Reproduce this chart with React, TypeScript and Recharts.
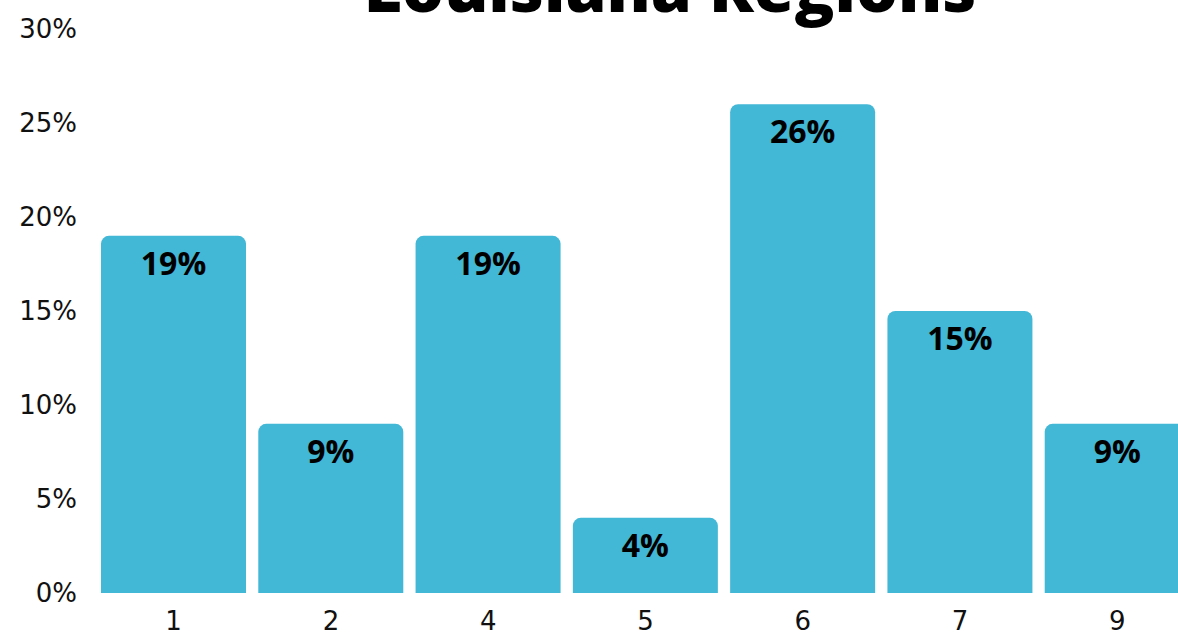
import { BarChart, Bar, XAxis, YAxis, LabelList } from "recharts";

const regions = ["1", "2", "4", "5", "6", "7", "9"];
const shares = [19, 9, 19, 4, 26, 15, 9];
const yTicks = [0, 5, 10, 15, 20, 25, 30];

const data = regions.map((region, i) => ({ region, share: shares[i] }));

const BAR_COLOR = "#42b7d6";
const FONT = "'Open Sans', 'Liberation Sans', sans-serif";
const TICK_FONT = "'DejaVu Sans', sans-serif";

export default function App() {
  return (
    <div
      style={{
        position: "fixed",
        left: 0,
        top: 0,
        width: 1178,
        height: 635,
        overflow: "hidden",
        background: "#fff",
      }}
    >
      <svg
        width={1178}
        height={40}
        style={{ position: "absolute", left: 0, top: 0, pointerEvents: "none" }}
      >
        <text
          x={670}
          y={12}
          textAnchor="middle"
          fontFamily={FONT}
          fontWeight={800}
          fontSize={66}
          fill="#000"
        >
          Louisiana Regions
        </text>
      </svg>
      <BarChart
        width={1200}
        height={635}
        data={data}
        margin={{ top: 29, right: 4, bottom: 0, left: 0 }}
        barCategoryGap={6}
      >
        <XAxis
          dataKey="region"
          axisLine={false}
          tickLine={false}
          height={42}
          tickMargin={13}
          tick={{ fontSize: 26, fill: "#111", fontFamily: TICK_FONT }}
        />
        <YAxis
          domain={[0, 30]}
          ticks={yTicks}
          axisLine={false}
          tickLine={false}
          width={95}
          tickMargin={12}
          tickFormatter={(v: number) => `${v}%`}
          tick={{ fontSize: 26, fill: "#111", fontFamily: TICK_FONT }}
        />
        <Bar dataKey="share" fill={BAR_COLOR} radius={[8, 8, 0, 0]} isAnimationActive={false}>
          <LabelList
            dataKey="share"
            position="insideTop"
            offset={16}
            formatter={(v: number) => `${v}%`}
            style={{ fontSize: 32, fontWeight: 700, fill: "#000", fontFamily: FONT }}
          />
        </Bar>
      </BarChart>
    </div>
  );
}
